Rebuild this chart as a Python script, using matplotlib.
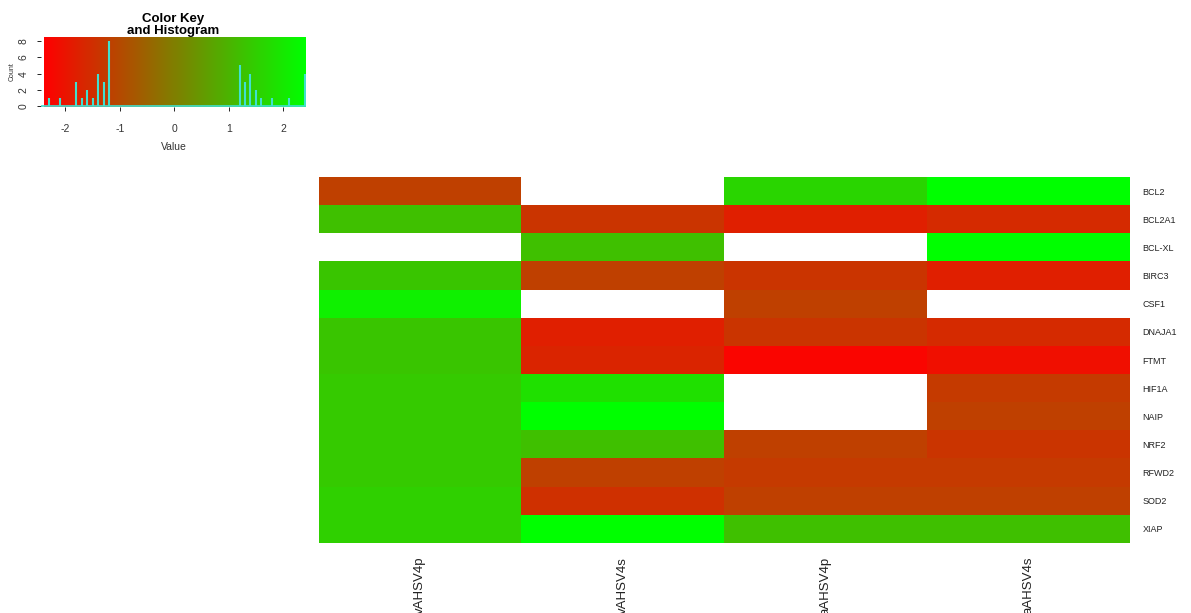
import numpy as np
import matplotlib.pyplot as plt
from matplotlib.colors import LinearSegmentedColormap

plt.rcParams["font.family"] = ["Liberation Sans", "DejaVu Sans"]

genes = ["BCL2", "BCL2A1", "BCL-XL", "BIRC3", "CSF1", "DNAJA1", "FTMT",
         "HIF1A", "NAIP", "NRF2", "RFWD2", "SOD2", "XIAP"]
samples = ["vAHSV4p", "vAHSV4s", "aAHSV4p", "aAHSV4s"]

nan = np.nan
vAHSV4p = [-1.2, 1.2, nan, 1.3, 2.1, 1.3, 1.3, 1.4, 1.4, 1.4, 1.4, 1.5, 1.5]
vAHSV4s = [nan, -1.4, 1.2, -1.2, nan, -1.8, -1.7, 1.8, 2.4, 1.2, -1.2, -1.5, 2.4]
aAHSV4p = [1.6, -1.8, nan, -1.4, -1.2, -1.4, -2.3, nan, nan, -1.2, -1.3, -1.2, 1.2]
aAHSV4s = [2.4, -1.6, 2.4, -1.8, nan, -1.6, -2.1, -1.3, -1.2, -1.4, -1.3, -1.2, 1.2]

key_lim = 2.4

mat = np.array([vAHSV4p, vAHSV4s, aAHSV4p, aAHSV4s]).T
cmap = LinearSegmentedColormap.from_list("rg", ["#ff0000", "#00ff00"], N=256)
cmap.set_bad("white")

fig = plt.figure(figsize=(11.91, 6.13), dpi=100)

# heatmap
ax = fig.add_axes([319 / 1191, 1 - 543 / 613, 811 / 1191, 366 / 613])
ax.imshow(np.ma.masked_invalid(mat), cmap=cmap, vmin=-key_lim, vmax=key_lim,
          aspect="auto", interpolation="nearest")
for s in ax.spines.values():
    s.set_visible(False)
ax.set_yticks(range(len(genes)))
ax.set_yticklabels(genes, fontsize=6.5, color="#222222")
ax.yaxis.tick_right()
ax.tick_params(axis="y", length=0, pad=9)
ax.set_xticks(range(len(samples)))
ax.set_xticklabels(samples, rotation=90, fontsize=9.5, color="#222222", va="top")
ax.tick_params(axis="x", length=0, pad=10)

# color key + histogram
kx = fig.add_axes([41 / 1191, 1 - 107 / 613, 265 / 1191, 70 / 613])
grad = np.linspace(-key_lim, key_lim, 256).reshape(1, -1)
kx.imshow(grad, cmap=cmap, vmin=-key_lim, vmax=key_lim, aspect="auto",
          extent=[-key_lim, key_lim, -0.1, 8.5], interpolation="bilinear")

vals = mat[~np.isnan(mat)]
pos, counts = np.unique(np.round(vals, 1), return_counts=True)
kx.vlines(pos, 0, counts, color="#40e0d0", lw=1.5)
kx.axhline(0, color="#40e0d0", lw=1.2)
kx.set_xlim(-2.45, 2.42)
kx.set_ylim(-0.1, 8.5)
for s in kx.spines.values():
    s.set_visible(False)
kx.set_xticks([-2, -1, 0, 1, 2])
kx.set_xticklabels(["-2", "-1", "0", "1", "2"], fontsize=7.5, color="#333333")
kx.set_yticks([0, 2, 4, 6, 8])
kx.set_yticklabels(["0", "2", "4", "6", "8"], fontsize=7.5, color="#333333",
                   rotation=90, va="center")
kx.tick_params(axis="x", length=3, width=0.6, pad=9)
kx.tick_params(axis="y", length=3, width=0.6, pad=6)
kx.set_xlabel("Value", fontsize=7.5, color="#333333", labelpad=6)
kx.set_ylabel("Count", fontsize=5, color="#333333", labelpad=2)
kx.set_title("Color Key\nand Histogram", fontsize=9.5, fontweight="bold",
             pad=-4, linespacing=1.05)

fig.savefig("out.png", dpi=100)
